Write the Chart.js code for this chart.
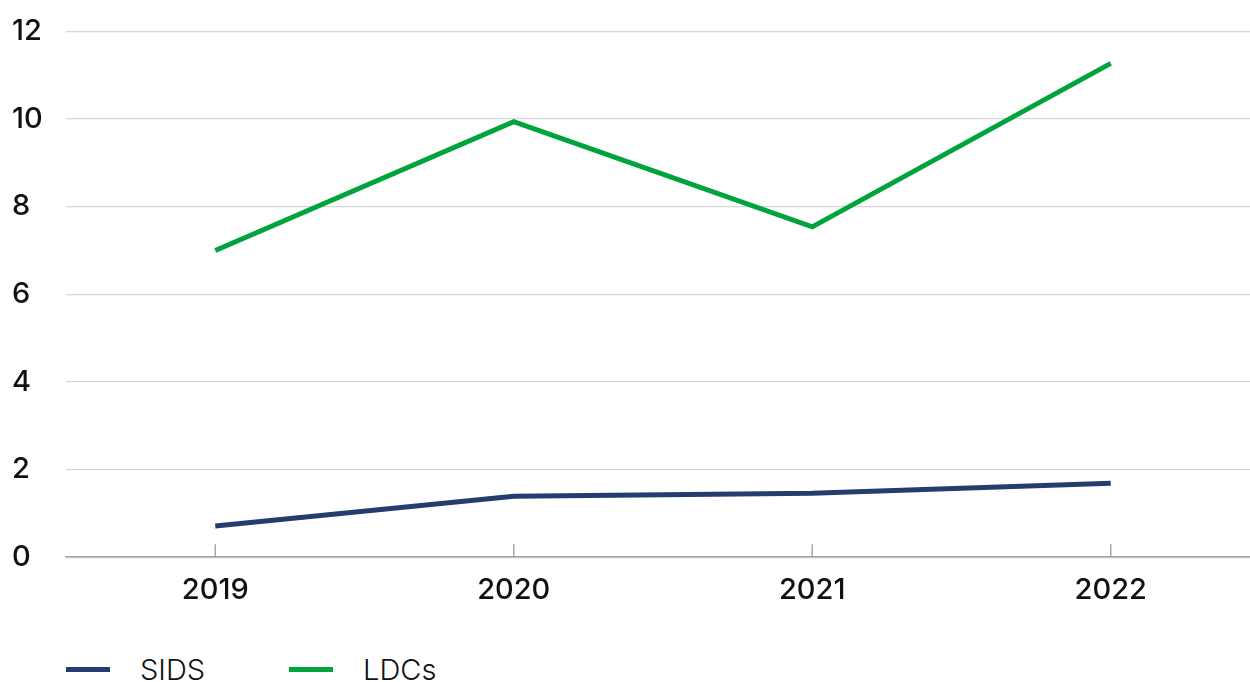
<!DOCTYPE html>
<html>
<head>
<meta charset="utf-8">
<script src="https://cdn.jsdelivr.net/npm/chart.js@4/dist/chart.umd.min.js"></script>
<style>
  html, body { margin: 0; padding: 0; background: #fff; overflow: hidden; }
  #wrap { position: relative; width: 1260px; height: 632px; margin-top: -8px; }
  #legend { position: absolute; left: 66px; top: 652px; font-family: Inter, sans-serif; font-size: 29px; font-weight: 300; color: #111; display: flex; }
  .item { display: flex; align-items: center; margin-right: 84px; }
  .swatch { width: 44px; height: 5px; margin-right: 30px; }
</style>
</head>
<body>
<div id="wrap"><canvas id="chart"></canvas></div>
<div id="legend"></div>
<script>
const years = ['2019', '2020', '2021', '2022']
const sids = [0.71, 1.39, 1.46, 1.69]
const ldcs = [7.0, 9.94, 7.54, 11.27]
const yTicks = [0, 2, 4, 6, 8, 10, 12]

const tickFont = { family: 'Inter, sans-serif', size: 29, weight: 500 }

// short tick marks standing up from the zero line
const xTicksUp = {
    id: 'xTicksUp',
    afterDatasetsDraw(chart) {
        const x = chart.scales.x
        const bottom = chart.chartArea.bottom
        const c = chart.ctx
        c.save()
        c.strokeStyle = '#a6a6a6'
        c.lineWidth = 1.5
        years.forEach((y, i) => {
            const px = x.getPixelForValue(i)
            c.beginPath()
            c.moveTo(px, bottom - 13)
            c.lineTo(px, bottom)
            c.stroke()
        })
        c.restore()
    }
}

const ctx = document.getElementById('chart')
const chart = new Chart(ctx, {
    type: 'line',
    data: {
        labels: years,
        datasets: [
            {
                label: 'SIDS',
                data: sids,
                borderColor: '#233d6e',
                backgroundColor: '#233d6e',
                borderWidth: 5,
                pointRadius: 0,
                tension: 0
            },
            {
                label: 'LDCs',
                data: ldcs,
                borderColor: '#00a33c',
                backgroundColor: '#00a33c',
                borderWidth: 5,
                pointRadius: 0,
                tension: 0
            }
        ]
    },
    options: {
        responsive: true,
        maintainAspectRatio: false,
        animation: false,
        layout: { padding: { top: 23, left: 12, right: 0, bottom: 0 } },
        plugins: { legend: { display: false }, tooltip: { enabled: false } },
        scales: {
            x: {
                offset: true,
                grid: { display: false, drawTicks: false },
                border: { color: '#a6a6a6', width: 1.5 },
                ticks: { font: tickFont, color: '#111', padding: 16 }
            },
            y: {
                min: 0,
                max: 12,
                afterBuildTicks: (s) => { s.ticks = yTicks.map(v => ({ value: v })) },
                afterFit: (s) => { s.width = 54 },
                grid: { color: '#d6d6d6', lineWidth: 1.2, drawTicks: false },
                border: { display: false },
                ticks: { font: tickFont, color: '#111', crossAlign: 'far', padding: 22 }
            }
        }
    },
    plugins: [xTicksUp]
})

const legend = document.getElementById('legend')
chart.data.datasets.forEach(ds => {
    const item = document.createElement('div')
    item.className = 'item'
    item.innerHTML = '<span class="swatch" style="background:' + ds.borderColor + '"></span><span>' + ds.label + '</span>'
    legend.appendChild(item)
})
</script>
</body>
</html>
